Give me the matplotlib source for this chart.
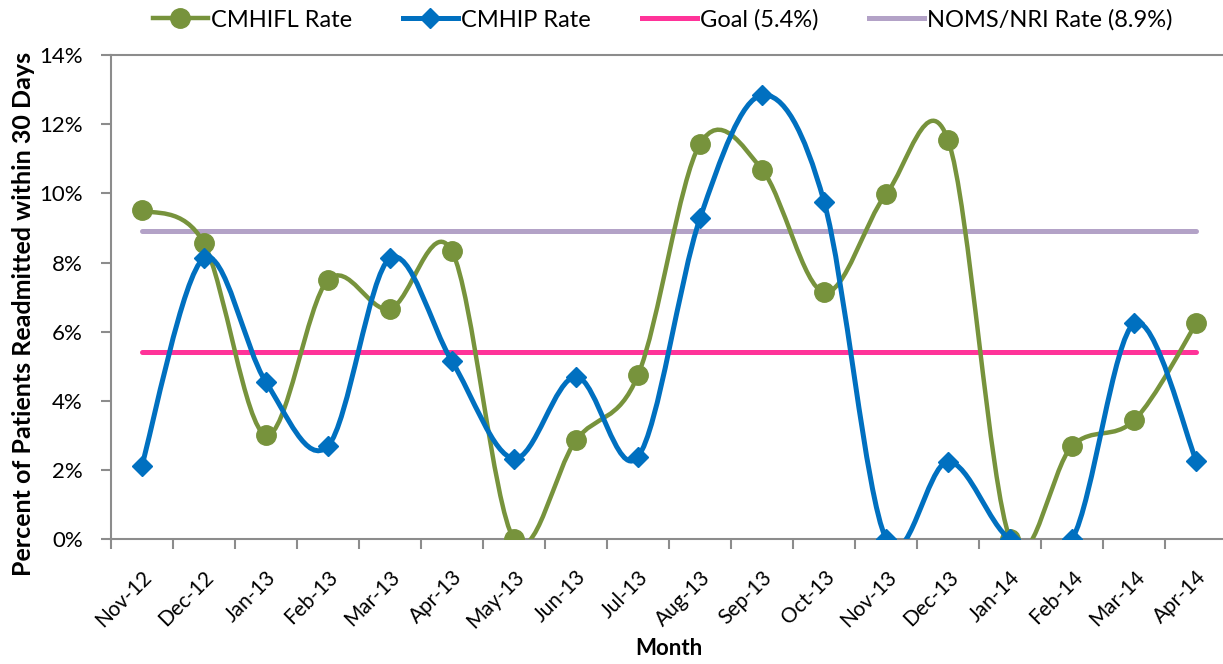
import matplotlib
matplotlib.use("Agg")
import matplotlib.pyplot as plt
from matplotlib.path import Path
from matplotlib.patches import PathPatch
from matplotlib.lines import Line2D
from matplotlib.ticker import FixedLocator, PercentFormatter
import numpy as np

months = ["Nov-12", "Dec-12", "Jan-13", "Feb-13", "Mar-13", "Apr-13", "May-13",
          "Jun-13", "Jul-13", "Aug-13", "Sep-13", "Oct-13", "Nov-13", "Dec-13",
          "Jan-14", "Feb-14", "Mar-14", "Apr-14"]
cmhifl_rate = [9.52, 8.57, 3.01, 7.49, 6.66, 8.33, 0.0, 2.86, 4.74, 11.43,
               10.69, 7.14, 9.98, 11.54, 0.0, 2.70, 3.44, 6.24]
cmhip_rate = [2.11, 8.12, 4.55, 2.69, 8.12, 5.15, 2.33, 4.70, 2.38, 9.28,
              12.84, 9.76, 0.0, 2.24, 0.0, 0.0, 6.24, 2.27]
goal_rate = 5.4
noms_rate = 8.9

GREEN = "#77933C"
BLUE = "#0070C0"
PINK = "#FF3399"
LAVENDER = "#B3A2C7"
GRAY = "#8C8C8C"

plt.rcParams["font.family"] = ["Lato", "DejaVu Sans"]


def smooth_path(x, y):
    # cubic Bezier through every point, tangents from neighbouring points
    x = np.asarray(x, float)
    y = np.asarray(y, float)
    n = len(x)
    verts = [(x[0], y[0])]
    codes = [Path.MOVETO]
    for i in range(n - 1):
        p0 = max(i - 1, 0)
        p3 = min(i + 2, n - 1)
        c1 = (x[i] + (x[i + 1] - x[p0]) / 6, y[i] + (y[i + 1] - y[p0]) / 6)
        c2 = (x[i + 1] - (x[p3] - x[i]) / 6, y[i + 1] - (y[p3] - y[i]) / 6)
        verts += [c1, c2, (x[i + 1], y[i + 1])]
        codes += [Path.CURVE4] * 3
    return Path(verts, codes)


fig = plt.figure(figsize=(12.23, 6.64), dpi=100)
ax = fig.add_axes([0.0905, 0.188, 0.913, 0.729])

xs = np.arange(len(months))

ax.plot([xs[0], xs[-1]], [noms_rate, noms_rate], color=LAVENDER, lw=3.6,
        solid_capstyle="round", zorder=2)
ax.plot([xs[0], xs[-1]], [goal_rate, goal_rate], color=PINK, lw=3.6,
        solid_capstyle="round", zorder=2)

ax.add_patch(PathPatch(smooth_path(xs, cmhifl_rate), fill=False, edgecolor=GREEN,
                       lw=3.2, zorder=3, capstyle="round"))
ax.plot(xs, cmhifl_rate, ls="none", marker="o", ms=14, color=GREEN, zorder=4)

ax.add_patch(PathPatch(smooth_path(xs, cmhip_rate), fill=False, edgecolor=BLUE,
                       lw=3.6, zorder=5, capstyle="round"))
ax.plot(xs, cmhip_rate, ls="none", marker="D", ms=10.5, color=BLUE, zorder=6)

ax.set_xlim(-0.5, len(months) - 0.5)
ax.set_ylim(0, 14)
ax.yaxis.set_major_locator(FixedLocator(np.arange(0, 15, 2)))
ax.yaxis.set_major_formatter(PercentFormatter(decimals=0))

ax.set_xticks(xs)
ax.set_xticklabels(months, rotation=45, ha="right", rotation_mode="anchor")
ax.xaxis.set_minor_locator(FixedLocator(np.arange(-0.5, len(months), 1)))
ax.tick_params(axis="x", which="major", length=0, pad=20, labelsize=15)
ax.tick_params(axis="x", which="minor", length=7, width=1.5, color=GRAY)
ax.tick_params(axis="y", length=7, width=1.5, color=GRAY, labelsize=16, pad=13)

for side in ax.spines.values():
    side.set_color(GRAY)
    side.set_linewidth(1.5)

ax.set_xlabel("Month", fontsize=16, fontweight="bold", labelpad=4)
ax.set_ylabel("Percent of Patients Readmitted within 30 Days", fontsize=18,
              fontweight="bold")
ax.yaxis.set_label_coords(-0.068, 0.465)

handles = [
    Line2D([], [], color=GREEN, lw=3.2, marker="o", ms=14),
    Line2D([], [], color=BLUE, lw=3.6, marker="D", ms=10.5),
    Line2D([], [], color=PINK, lw=3.6),
    Line2D([], [], color=LAVENDER, lw=3.6),
]
labels = ["CMHIFL Rate", "CMHIP Rate", "Goal (5.4%)", "NOMS/NRI Rate (8.9%)"]
fig.legend(handles, labels, loc="center", bbox_to_anchor=(0.542, 0.97), ncol=4,
           frameon=False, fontsize=17, handlelength=2.33, handletextpad=0.13,
           columnspacing=2.16)

fig.savefig("out.png", dpi=100)
